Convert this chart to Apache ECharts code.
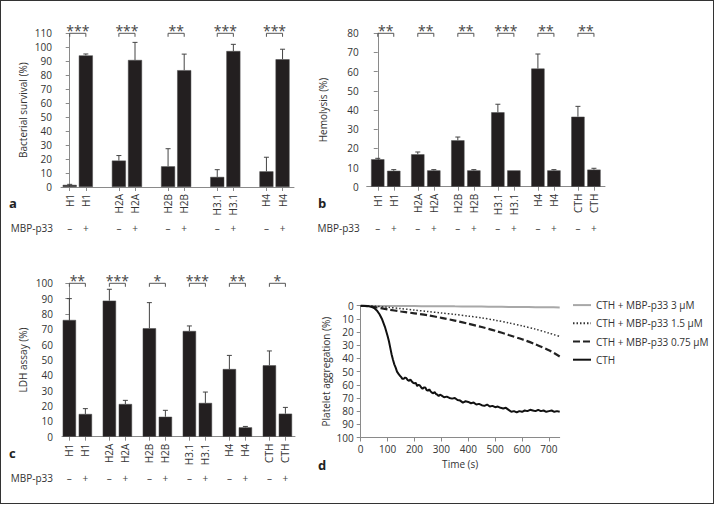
<!DOCTYPE html>
<html><head><meta charset="utf-8">
<script src="https://cdn.jsdelivr.net/npm/echarts@6/dist/echarts.min.js"></script>
<style>
html,body{margin:0;padding:0;background:#fff}
#c{width:716px;height:505px;position:absolute;left:0;top:0}
#f{position:absolute;left:0;top:0;width:714px;height:504px;box-sizing:border-box;border:1.5px solid #333;pointer-events:none}
</style>
</head><body><div id="c"></div><div id="f"></div>
<script>
// ---- Panel a: bacterial survival ----
const catsA = ['H1', 'H2A', 'H2B', 'H3.1', 'H4'];
const survivalMinus = [1.5, 18.9, 14.8, 7.2, 11.2];
const survivalMinusErr = [0.4, 3.6, 12.6, 5.2, 10.1];
const survivalPlus = [94.2, 90.9, 83.6, 97.3, 91.4];
const survivalPlusErr = [1.0, 12.6, 11.5, 4.8, 7.2];
const starsA = ['***', '***', '**', '***', '***'];

// ---- Panels b, c ----
const catsBC = ['H1', 'H2A', 'H2B', 'H3.1', 'H4', 'CTH'];
const hemoMinus = [14.3, 16.9, 24.2, 38.8, 61.6, 36.5];
const hemoMinusErr = [0.5, 1.2, 1.7, 4.2, 7.6, 5.4];
const hemoPlus = [8.3, 8.5, 8.5, 8.5, 8.5, 8.9];
const hemoPlusErr = [0.6, 0.4, 0.4, 0, 0.4, 0.7];
const starsB = ['**', '**', '**', '***', '**', '**'];

const ldhMinus = [76.1, 88.7, 70.7, 68.9, 44.1, 46.5];
const ldhMinusErr = [13.9, 7.4, 16.7, 3.3, 8.9, 9.4];
const ldhPlus = [14.8, 21.3, 13.0, 22.0, 6.1, 15.0];
const ldhPlusErr = [3.5, 2.4, 4.2, 7.1, 0.6, 4.1];
const starsC = ['**', '***', '*', '***', '**', '*'];

const yTicksA = 110, yTicksB = 80, yTicksC = 100;

// ---- Panel d: platelet aggregation ----
const timeCoarse = [0, 25, 50, 100, 150, 200, 250, 300, 350, 400, 450, 500, 550, 600, 650, 700, 740];
const mbp3 = [0, 0, 0.1, 0.2, 0.3, 0.3, 0.4, 0.4, 0.5, 0.6, 0.7, 0.8, 0.9, 1.0, 1.1, 1.2, 1.3];
const mbp15 = [0, 0.1, 0.3, 1.2, 2.2, 3.3, 4.4, 5.5, 6.6, 7.9, 9.3, 11.0, 13.0, 15.3, 17.8, 20.8, 23.3];
const mbp075 = [0, 0.3, 1.0, 2.8, 4.4, 5.8, 7.3, 9.2, 11.3, 13.7, 16.2, 19.0, 22.2, 25.5, 29.3, 33.8, 38.5];
const timeFine = [0, 10, 20, 30, 40, 50, 60, 70, 80, 90, 100, 105, 110, 115, 120, 125, 130, 135, 140, 145,
  150, 155, 160, 165, 170, 175, 180, 185, 190, 195, 200, 205, 210, 215, 220, 225, 230, 235, 240, 245,
  250, 255, 260, 265, 270, 275, 280, 285, 290, 295, 300, 310, 320, 330, 340, 350, 360, 370, 380, 390,
  400, 410, 420, 430, 440, 450, 460, 470, 480, 490, 500, 510, 520, 530, 540, 550, 560, 570, 580, 590,
  600, 610, 620, 630, 640, 650, 660, 670, 680, 690, 700, 710, 720, 730, 740];
const cthOnly = [0, 0, 0.2, 0.4, 0.9, 1.8, 3.6, 6.5, 10.5, 16, 23, 27, 32, 37, 41, 44.5, 47, 50, 51.5, 53,
  54, 55.5, 55.5, 54.5, 55, 56.5, 57, 56, 57.5, 58.5, 59, 58.5, 61, 60, 60.5, 62, 63, 62, 62, 64,
  64.5, 63.5, 65, 66, 66.5, 65.5, 67, 67.5, 68.5, 67.5, 68, 69.5, 69, 70, 70.5, 70, 71.5, 72, 73.5, 72.5,
  73, 74, 73.5, 75, 74.5, 75.5, 76, 75, 76.5, 76, 77, 76.5, 77.5, 78, 77.5, 79, 80.5, 80, 81, 80,
  80.5, 79.5, 80, 79, 79.5, 80, 79, 80, 79.5, 80.5, 80, 79.5, 80.5, 80, 80.5];
const lineNames = ['CTH + MBP-p33 3 μM', 'CTH + MBP-p33 1.5 μM', 'CTH + MBP-p33 0.75 μM', 'CTH'];

const FONT = '"Open Sans", sans-serif';
const TXT = '#333';
const AX = '#8a8a8a';
const BAR = '#231f20';

const grids = [], xAxes = [], yAxes = [], series = [];

function barPanel(cfg) {
  const gi = grids.length;
  grids.push({ left: cfg.left, top: cfg.top, width: cfg.width, height: cfg.height, outerBoundsMode: 'none', containLabel: false });
  const pos = [], labs = [], signs = [], vals = [], errs = [];
  cfg.cats.forEach((c, p) => {
    pos.push(p * cfg.step, p * cfg.step + 1);
    labs.push(c, c);
    signs.push('–', '+');
    vals.push(cfg.minus[p], cfg.plus[p]);
    errs.push(cfg.minusErr[p], cfg.plusErr[p]);
  });
  const find = v => pos.findIndex(q => Math.abs(q - v) < 1e-6);
  const xi = xAxes.length;
  xAxes.push({
    type: 'value', gridIndex: gi, position: 'bottom', min: cfg.xmin, max: cfg.xmax, splitLine: { show: false },
    axisLine: { onZero: false, lineStyle: { color: AX, width: 1 } },
    axisTick: { customValues: pos, length: 4, lineStyle: { color: AX } },
    axisLabel: { customValues: pos, rotate: 90, margin: 7, color: TXT, fontSize: 10, fontFamily: FONT,
      formatter: v => { const i = find(v); return i < 0 ? '' : labs[i]; } }
  });
  xAxes.push({
    type: 'value', gridIndex: gi, position: 'bottom', min: cfg.xmin, max: cfg.xmax, offset: 41, splitLine: { show: false },
    axisLine: { show: false, onZero: false }, axisTick: { show: false },
    axisLabel: { customValues: pos, margin: 0, verticalAlign: 'middle', color: '#444', fontSize: 10, fontFamily: FONT,
      formatter: v => { const i = find(v); return i < 0 ? '' : signs[i]; } },
    name: 'MBP-p33', nameLocation: 'start', nameGap: cfg.mbpGap,
    nameTextStyle: { color: TXT, fontSize: 10, fontFamily: FONT, align: 'right', verticalAlign: 'middle' }
  });
  const yi = yAxes.length;
  yAxes.push({
    type: 'value', gridIndex: gi, min: 0, max: cfg.ymax, interval: 10, splitLine: { show: false },
    axisLine: { show: true, lineStyle: { color: AX } },
    axisTick: { show: true, length: 4, lineStyle: { color: AX } },
    axisLabel: { margin: cfg.labelMargin, color: TXT, fontSize: 10, fontFamily: FONT },
    name: cfg.yName, nameLocation: 'middle', nameGap: cfg.nameGap,
    nameTextStyle: { color: TXT, fontSize: 10, fontFamily: FONT }
  });
  series.push({
    type: 'bar', xAxisIndex: xi, yAxisIndex: yi, barWidth: cfg.barWidth, silent: true,
    data: pos.map((x, i) => [x, vals[i]]),
    itemStyle: { color: BAR, borderColor: '#4a4a4a', borderWidth: 0.5 }
  });
  series.push({
    type: 'custom', xAxisIndex: xi, yAxisIndex: yi, silent: true, z: 3,
    data: pos.map((x, i) => [x, vals[i], errs[i]]),
    renderItem: (params, api) => {
      const x = api.value(0), v = api.value(1), e = api.value(2);
      if (!e) return null;
      const p0 = api.coord([x, v]), p1 = api.coord([x, v + e]);
      return { type: 'group', children: [
        { type: 'line', shape: { x1: p0[0], y1: p0[1], x2: p1[0], y2: p1[1] }, style: { stroke: '#444', lineWidth: 1 } },
        { type: 'line', shape: { x1: p1[0] - 2.5, y1: p1[1], x2: p1[0] + 2.5, y2: p1[1] }, style: { stroke: '#444', lineWidth: 1 } }
      ] };
    }
  });
  series.push({
    type: 'custom', xAxisIndex: xi, yAxisIndex: yi, silent: true, z: 3,
    data: cfg.cats.map((c, p) => [pos[2 * p], pos[2 * p + 1], cfg.ymax]),
    renderItem: (params, api) => {
      const a = api.coord([api.value(0), api.value(2)]);
      const b = api.coord([api.value(1), api.value(2)]);
      return { type: 'group', children: [
        { type: 'polyline', shape: { points: [[a[0], a[1] + 3.5], [a[0], a[1]], [b[0], a[1]], [b[0], a[1] + 3.5]] },
          style: { stroke: '#555', lineWidth: 1, fill: null } },
        { type: 'text', x: (a[0] + b[0]) / 2, y: a[1] - 3,
          style: { text: cfg.stars[params.dataIndex], fill: '#444', font: '14px "Open Sans", sans-serif',
            align: 'center', verticalAlign: 'middle' } }
      ] };
    }
  });
}

barPanel({ left: 61, top: 33.3, width: 233, height: 153.7, cats: catsA, step: 3.05, xmin: -0.54, xmax: 13.91,
  minus: survivalMinus, minusErr: survivalMinusErr, plus: survivalPlus, plusErr: survivalPlusErr, stars: starsA,
  ymax: yTicksA, yName: 'Bacterial survival (%)', nameGap: 33, labelMargin: 9, mbpGap: 8, barWidth: 14 });
barPanel({ left: 366.7, top: 33.3, width: 238.3, height: 153.4, cats: catsBC, step: 2.5, xmin: -0.69, xmax: 14.19,
  minus: hemoMinus, minusErr: hemoMinusErr, plus: hemoPlus, plusErr: hemoPlusErr, stars: starsB,
  ymax: yTicksB, yName: 'Hemolysis (%)', nameGap: 39, labelMargin: 8, mbpGap: 7, barWidth: 13.3 });
barPanel({ left: 62, top: 283.3, width: 233, height: 153.4, cats: catsBC, step: 2.5, xmin: -0.46, xmax: 14.1,
  minus: ldhMinus, minusErr: ldhMinusErr, plus: ldhPlus, plusErr: ldhPlusErr, stars: starsC,
  ymax: yTicksC, yName: 'LDH assay (%)', nameGap: 34, labelMargin: 9, mbpGap: 9, barWidth: 13.3 });

// Panel d
const gd = grids.length;
grids.push({ left: 360.7, top: 305.7, width: 199, height: 131.8, outerBoundsMode: 'none', containLabel: false });
const xd = xAxes.length;
xAxes.push({
  type: 'value', gridIndex: gd, position: 'bottom', min: 0, max: 740, interval: 100, splitLine: { show: false },
  axisLine: { onZero: false, lineStyle: { color: AX } },
  axisTick: { length: 4, lineStyle: { color: AX } },
  axisLabel: { margin: 6, color: TXT, fontSize: 10, fontFamily: FONT, showMaxLabel: false },
  name: 'Time (s)', nameLocation: 'middle', nameGap: 21,
  nameTextStyle: { color: TXT, fontSize: 10, fontFamily: FONT }
});
const yd = yAxes.length;
yAxes.push({
  type: 'value', gridIndex: gd, min: 0, max: 100, interval: 10, inverse: true, splitLine: { show: false },
  axisLine: { show: true, onZero: false, lineStyle: { color: AX } },
  axisTick: { show: true, length: 4, lineStyle: { color: AX } },
  axisLabel: { margin: 7, color: TXT, fontSize: 10, fontFamily: FONT },
  name: 'Platelet aggregation (%)', nameLocation: 'middle', nameGap: 30,
  nameTextStyle: { color: TXT, fontSize: 10, fontFamily: FONT }
});
const lineStyles = [
  { color: '#a8a8a8', width: 2, type: 'solid' },
  { color: '#333', width: 1.5, type: [1.5, 2] },
  { color: '#222', width: 2.2, type: [7, 3] },
  { color: '#111', width: 2, type: 'solid' }
];
const lineData = [
  timeCoarse.map((t, i) => [t, mbp3[i]]),
  timeCoarse.map((t, i) => [t, mbp15[i]]),
  timeCoarse.map((t, i) => [t, mbp075[i]]),
  timeFine.map((t, i) => [t, cthOnly[i]])
];
lineNames.forEach((n, i) => {
  series.push({ type: 'line', name: n, xAxisIndex: xd, yAxisIndex: yd, data: lineData[i],
    symbol: 'none', showSymbol: false, silent: true, smooth: i < 3 ? 0.3 : false,
    lineStyle: lineStyles[i], itemStyle: { color: lineStyles[i].color }, z: i === 3 ? 4 : 3 });
});

const chart = echarts.init(document.getElementById('c'), null, { renderer: 'svg' });
chart.setOption({
  animation: false,
  backgroundColor: '#fff',
  grid: grids, xAxis: xAxes, yAxis: yAxes, series: series,
  legend: {
    orient: 'vertical', left: 572, top: 299.5, padding: 0, itemWidth: 18, itemHeight: 14, itemGap: 7,
    selectedMode: false, data: lineNames,
    itemStyle: { color: 'rgba(0,0,0,0)', borderColor: 'rgba(0,0,0,0)', borderWidth: 0, opacity: 0 },
    textStyle: { color: TXT, fontSize: 10, fontFamily: FONT }
  },
  graphic: [
    { type: 'text', x: 9, y: 202.5, style: { text: 'a', font: 'bold 13px "Open Sans", sans-serif', fill: '#222', verticalAlign: 'middle' } },
    { type: 'text', x: 318, y: 202.5, style: { text: 'b', font: 'bold 13px "Open Sans", sans-serif', fill: '#222', verticalAlign: 'middle' } },
    { type: 'text', x: 9, y: 453, style: { text: 'c', font: 'bold 13px "Open Sans", sans-serif', fill: '#222', verticalAlign: 'middle' } },
    { type: 'text', x: 318, y: 465, style: { text: 'd', font: 'bold 13px "Open Sans", sans-serif', fill: '#222', verticalAlign: 'middle' } }
  ]
});
</script>
</body></html>
